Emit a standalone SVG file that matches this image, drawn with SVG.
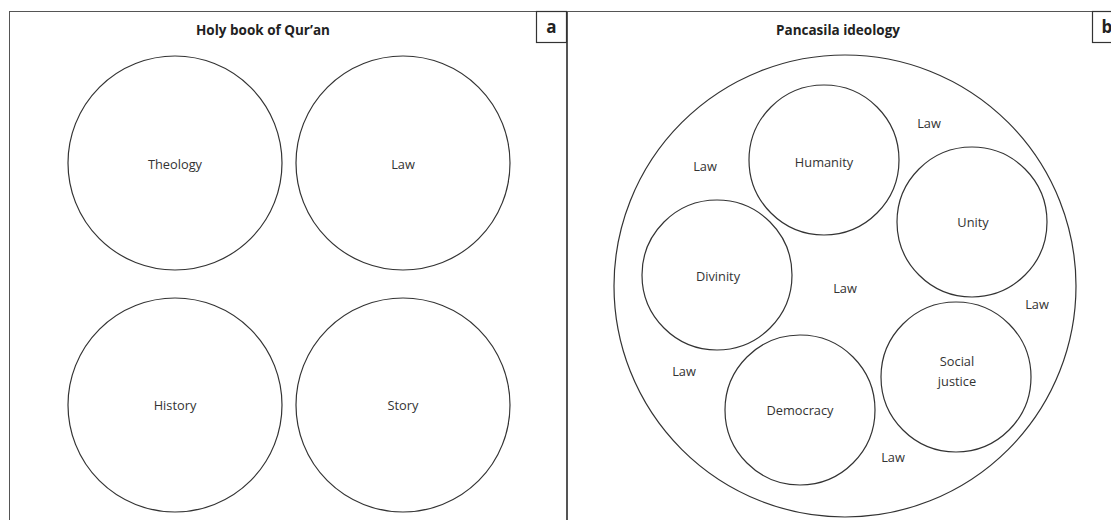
<svg xmlns="http://www.w3.org/2000/svg" width="1111" height="520" viewBox="0 0 1111 520">
<style>
.bg{fill:#fff}
.frame{fill:none;stroke:#555;stroke-width:1}
.tag{fill:#fff;stroke:#333;stroke-width:1.2}
.c{fill:none;stroke:#333;stroke-width:1.2}
.t{font-family:"Open Sans","Liberation Sans",sans-serif;font-size:12.8px;fill:#333;text-anchor:middle}
.h{font-family:"Open Sans","Liberation Sans",sans-serif;font-size:13.5px;font-weight:bold;fill:#222;text-anchor:middle}
.lab{font-family:"Open Sans","Liberation Sans",sans-serif;font-size:17px;font-weight:bold;fill:#222;text-anchor:middle}
</style>
<rect class="bg" x="0" y="0" width="1111" height="520"/>
<g id="panel-a">
<rect class="frame" x="9.5" y="11.5" width="557" height="520"/>
<rect class="tag" x="536.5" y="11.5" width="30" height="31"/>
<text class="lab" x="551.5" y="33">a</text>
<text class="h" x="263" y="35">Holy book of Qur’an</text>
</g>
<g id="panel-b">
<rect class="frame" x="567.5" y="11.5" width="560" height="520"/>
<rect class="tag" x="1092.5" y="11.5" width="30" height="31"/>
<text class="lab" x="1107" y="33">b</text>
<text class="h" x="838" y="35">Pancasila ideology</text>
</g>
<g id="theology"><circle class="c" cx="175" cy="163" r="107"/><text class="t" x="175" y="169">Theology</text></g>
<g id="law"><circle class="c" cx="403" cy="163" r="107"/><text class="t" x="403" y="169">Law</text></g>
<g id="history"><circle class="c" cx="175" cy="405" r="107"/><text class="t" x="175" y="410">History</text></g>
<g id="story"><circle class="c" cx="403" cy="405" r="107"/><text class="t" x="403" y="410">Story</text></g>
<g id="pancasila"><circle class="c" cx="845" cy="286" r="231"/></g>
<g id="humanity"><circle class="c" cx="824" cy="160" r="75"/><text class="t" x="824" y="167">Humanity</text></g>
<g id="divinity"><circle class="c" cx="717" cy="275" r="75"/><text class="t" x="718" y="281">Divinity</text></g>
<g id="unity"><circle class="c" cx="972" cy="222" r="75"/><text class="t" x="973" y="227">Unity</text></g>
<g id="social-justice"><circle class="c" cx="956" cy="377" r="75"/><text class="t" x="957" y="366">Social</text><text class="t" x="957" y="386">justice</text></g>
<g id="democracy"><circle class="c" cx="800" cy="410" r="75"/><text class="t" x="800" y="415">Democracy</text></g>
<g id="law-labels">
<text class="t" x="705" y="171">Law</text>
<text class="t" x="929" y="128">Law</text>
<text class="t" x="845" y="293">Law</text>
<text class="t" x="1037" y="309">Law</text>
<text class="t" x="684" y="376">Law</text>
<text class="t" x="893" y="462">Law</text>
</g>
<g id="connectors"></g>
</svg>
